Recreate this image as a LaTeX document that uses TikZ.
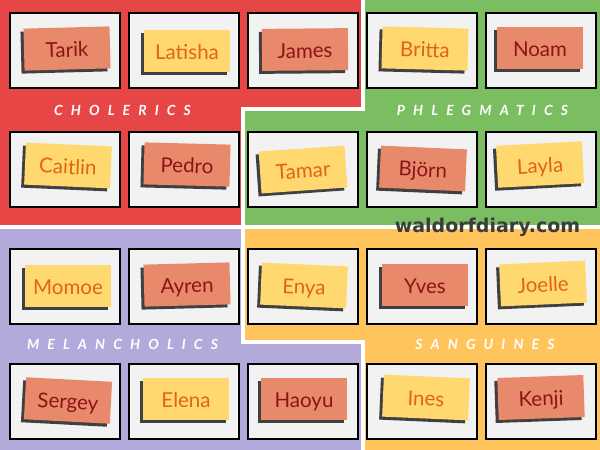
\documentclass[tikz,border=0pt]{standalone}
\usepackage{fontspec}
\usetikzlibrary{shadows}
\newfontfamily\namefont{Lato}
\newfontfamily\groupfont{Lato}[LetterSpace=58]
\newfontfamily\sitefont{DejaVu Sans}
\definecolor{choleric}{HTML}{E74646}
\definecolor{phlegmatic}{HTML}{7BBE62}
\definecolor{melancholic}{HTML}{B4A9DB}
\definecolor{sanguine}{HTML}{FFC55C}
\definecolor{cardgray}{HTML}{F2F2F2}
\definecolor{salmon}{HTML}{E9896C}
\definecolor{sunny}{HTML}{FFD86F}
\definecolor{darkred}{HTML}{8C1414}
\definecolor{burnt}{HTML}{E3640E}
\definecolor{notegray}{HTML}{404040}
\definecolor{sitegray}{HTML}{3C3C3C}
\begin{document}
\begin{tikzpicture}[x=1pt,y=-1pt,
    namecard/.style={draw=black,line width=1.6pt,fill=cardgray,minimum width=110pt,minimum height=75pt,inner sep=0pt},
    namenote/.style={minimum width=86pt,minimum height=42pt,inner sep=0pt,text height=19pt,text depth=2pt,
      font=\namefont\fontsize{20.5}{20.5}\selectfont,
      drop shadow={shadow xshift=-3pt,shadow yshift=-3pt,fill=notegray,opacity=1}},
    hotnote/.style={namenote,fill=salmon,text=darkred},
    warmnote/.style={namenote,fill=sunny,text=burnt},
    grouplabel/.style={text=white,font=\groupfont\bfseries\itshape\fontsize{14}{14}\selectfont}]
    \useasboundingbox (0,0) rectangle (600,450);
    % four temperaments
    \fill [choleric] (0,0) -- (363,0) -- (363,109) -- (243,109) -- (243,227) -- (0,227) -- cycle;
    \fill [phlegmatic] (363,0) -- (600,0) -- (600,227) -- (243,227) -- (243,109) -- (363,109) -- cycle;
    \fill [melancholic] (0,227) -- (243,227) -- (243,342) -- (363,342) -- (363,450) -- (0,450) -- cycle;
    \fill [sanguine] (243,227) -- (600,227) -- (600,450) -- (363,450) -- (363,342) -- (243,342) -- cycle;
    \draw [white,line width=3.5pt] (363,-2) -- (363,109) -- (243,109) -- (243,342) -- (363,342) -- (363,452);
    \draw [white,line width=3.5pt] (-2,227) -- (602,227);
    % cards
    \path (65,50.5) node (c11) [namecard] {}
    (184,50.5) node (c12) [namecard] {}
    (303,50.5) node (c13) [namecard] {}
    (422,50.5) node (c14) [namecard] {}
    (541,50.5) node (c15) [namecard] {}
    (65,169.5) node (c21) [namecard] {}
    (184,169.5) node (c22) [namecard] {}
    (303,169.5) node (c23) [namecard] {}
    (422,169.5) node (c24) [namecard] {}
    (541,169.5) node (c25) [namecard] {}
    (65,286.5) node (c31) [namecard] {}
    (184,286.5) node (c32) [namecard] {}
    (303,286.5) node (c33) [namecard] {}
    (422,286.5) node (c34) [namecard] {}
    (541,286.5) node (c35) [namecard] {}
    (65,401.5) node (c41) [namecard] {}
    (184,401.5) node (c42) [namecard] {}
    (303,401.5) node (c43) [namecard] {}
    (422,401.5) node (c44) [namecard] {}
    (541,401.5) node (c45) [namecard] {};
    % names
    \path (67,48.5) node (tarik) [hotnote,rotate=1.5] {Tarik}
    (187,50.5) node (latisha) [warmnote] {Latisha}
    (305,49.5) node (james) [hotnote,rotate=0.5] {James}
    (425,48.5) node (britta) [warmnote,rotate=-1.5] {Britta}
    (540,48) node (noam) [hotnote] {Noam}
    (68,165.5) node (caitlin) [warmnote,rotate=-2.5] {Caitlin}
    (187,164.5) node (pedro) [hotnote,rotate=-1.5] {Pedro}
    (303,169.5) node (tamar) [warmnote,rotate=4] {Tamar}
    (423,168.5) node (bjorn) [hotnote,rotate=-2.5] {Björn}
    (540,164.5) node (layla) [warmnote,rotate=3] {Layla}
    (68,285.5) node (momoe) [warmnote] {Momoe}
    (187,284.5) node (ayren) [hotnote,rotate=1.5] {Ayren}
    (304,285.5) node (enya) [warmnote,rotate=-2.5] {Enya}
    (425,284.5) node (yves) [hotnote] {Yves}
    (543,283.5) node (joelle) [warmnote,rotate=2.5] {Joelle}
    (68,400.5) node (sergey) [hotnote,rotate=-3] {Sergey}
    (186,398.5) node (elena) [warmnote] {Elena}
    (304,398.5) node (haoyu) [hotnote] {Haoyu}
    (426,397.5) node (ines) [warmnote,rotate=-2.5] {Ines}
    (541,397.5) node (kenji) [hotnote,rotate=2] {Kenji};
    % group labels
    \path (122.5,110) node (chol) [grouplabel] {CHOLERICS}
    (482.5,110) node (phleg) [grouplabel] {PHLEGMATICS}
    (122.5,344) node (melan) [grouplabel] {MELANCHOLICS}
    (485,344) node (sang) [grouplabel] {SANGUINES};
    \path (487.5,232.5) node (site) [anchor=base,text=sitegray,font=\sitefont\bfseries\fontsize{19}{19}\selectfont] {waldorfdiary.com};
\end{tikzpicture}
\end{document}
